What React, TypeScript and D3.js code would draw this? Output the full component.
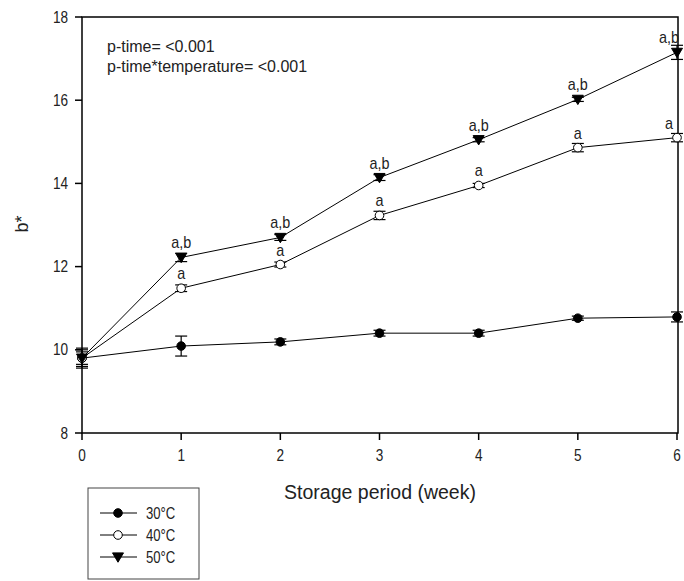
import React from "react";
import * as d3 from "d3";

const weeks = [0, 1, 2, 3, 4, 5, 6];
const series30 = [9.8, 10.09, 10.19, 10.4, 10.4, 10.76, 10.79];
const err30 = [0.24, 0.24, 0.07, 0.07, 0.07, 0.05, 0.12];
const series40 = [9.8, 11.48, 12.05, 13.23, 13.95, 14.86, 15.1];
const err40 = [0.2, 0.08, 0.06, 0.1, 0.05, 0.1, 0.1];
const series50 = [9.8, 12.22, 12.7, 14.14, 15.05, 16.02, 17.15];
const err50 = [0.15, 0.1, 0.07, 0.07, 0.05, 0.05, 0.17];
const labels40 = ["", "a", "a", "a", "a", "a", "a"];
const labels50 = ["", "a,b", "a,b", "a,b", "a,b", "a,b", "a,b"];
const yTicks = [8, 10, 12, 14, 16, 18];
const legendLabels = ["30°C", "40°C", "50°C"];
const annotations = ["p-time= <0.001", "p-time*temperature= <0.001"];

const FONT = "'Liberation Sans', Arial, sans-serif";
const TXT = "#222";

function Marker({ kind, x, y }: { kind: number; x: number; y: number }) {
  if (kind === 0) return <circle cx={x} cy={y} r={4.3} fill="#000" stroke="#000" strokeWidth={1} />;
  if (kind === 1) return <circle cx={x} cy={y} r={4.3} fill="#fff" stroke="#000" strokeWidth={1} />;
  const s = 5.5;
  return (
    <path
      d={`M${x - s},${y - s * 0.75}L${x + s},${y - s * 0.75}L${x},${y + s * 0.95}Z`}
      fill="#000"
      stroke="#000"
      strokeWidth={1}
    />
  );
}

function T({
  x,
  y,
  size,
  sx = 1,
  anchor = "start",
  children,
}: {
  x: number;
  y: number;
  size: number;
  sx?: number;
  anchor?: string;
  children: React.ReactNode;
}) {
  return (
    <text
      transform={`translate(${x},${y}) scale(${sx},1)`}
      textAnchor={anchor as any}
      fontSize={size}
      fill={TXT}
    >
      {children}
    </text>
  );
}

export default function App() {
  const left = 82, right = 677, top = 17, bottom = 433;
  const x = d3.scaleLinear().domain([0, 6]).range([left, right]);
  const y = d3.scaleLinear().domain([8, 18]).range([bottom, top]);
  const line = d3
    .line<number>()
    .x((_, i) => x(weeks[i]))
    .y((d) => y(d));

  const all = [
    { vals: series30, errs: err30, labels: null as string[] | null },
    { vals: series40, errs: err40, labels: labels40 },
    { vals: series50, errs: err50, labels: labels50 },
  ];

  return (
    <svg
      width={684}
      height={581}
      style={{ position: "absolute", left: 0, top: 0, background: "#fff" }}
      fontFamily={FONT}
    >
      <rect x={0} y={0} width={684} height={581} fill="#fff" />
      {/* frame */}
      <rect x={left} y={top} width={right + 1 - left} height={bottom - top} fill="none" stroke="#000" strokeWidth={1.5} />
      {/* y ticks */}
      {yTicks.map((t) => (
        <g key={t}>
          <line x1={left - 7} x2={left} y1={y(t)} y2={y(t)} stroke="#000" strokeWidth={1.5} />
          <T x={left - 14} y={y(t) + 5.5} size={16} sx={0.85} anchor="end">
            {t}
          </T>
        </g>
      ))}
      {/* x ticks */}
      {weeks.map((w) => (
        <g key={w}>
          <line x1={x(w)} x2={x(w)} y1={bottom} y2={bottom + 7} stroke="#000" strokeWidth={1.5} />
          <T x={x(w)} y={bottom + 28} size={16} sx={0.85} anchor="middle">
            {w}
          </T>
        </g>
      ))}
      <T x={380} y={499} size={19.5} anchor="middle">
        Storage period (week)
      </T>
      <text transform={`translate(28,224) rotate(-90)`} textAnchor="middle" fontSize={18} fill={TXT}>
        b*
      </text>
      {annotations.map((a, i) => (
        <T key={a} x={107} y={52 + i * 20} size={16}>
          {a}
        </T>
      ))}
      {/* lines */}
      {all.map((s, k) => (
        <path key={"l" + k} d={line(s.vals) || ""} fill="none" stroke="#000" strokeWidth={1} />
      ))}
      {/* error bars */}
      {all.map((s, k) =>
        s.vals.map((v, i) => (
          <g key={`e${k}-${i}`} stroke="#000" strokeWidth={1.2}>
            <line x1={x(weeks[i])} x2={x(weeks[i])} y1={y(v - s.errs[i])} y2={y(v + s.errs[i])} />
            <line x1={x(weeks[i]) - 6} x2={x(weeks[i]) + 6} y1={y(v - s.errs[i])} y2={y(v - s.errs[i])} />
            <line x1={x(weeks[i]) - 6} x2={x(weeks[i]) + 6} y1={y(v + s.errs[i])} y2={y(v + s.errs[i])} />
          </g>
        ))
      )}
      {/* markers */}
      {all.map((s, k) =>
        s.vals.map((v, i) => <Marker key={`m${k}-${i}`} kind={k} x={x(weeks[i])} y={y(v)} />)
      )}
      {/* significance labels */}
      {all.map((s, k) =>
        s.labels
          ? s.vals.map((v, i) =>
              s.labels![i] ? (
                <T
                  key={`t${k}-${i}`}
                  x={x(weeks[i]) - (i === 6 ? 8 : 0)}
                  y={y(v) - 9}
                  size={16}
                  sx={0.9}
                  anchor="middle"
                >
                  {s.labels![i]}
                </T>
              ) : null
            )
          : null
      )}
      {/* legend */}
      <rect x={88} y={488} width={111} height={91} fill="#fff" stroke="#444" strokeWidth={1} />
      {legendLabels.map((lab, k) => {
        const ly = 513 + k * 22;
        return (
          <g key={lab}>
            <line x1={100} x2={137} y1={ly} y2={ly} stroke="#000" strokeWidth={1} />
            <Marker kind={k} x={118} y={ly} />
            <T x={146} y={ly + 6} size={16} sx={0.82}>
              {lab}
            </T>
          </g>
        );
      })}
    </svg>
  );
}
